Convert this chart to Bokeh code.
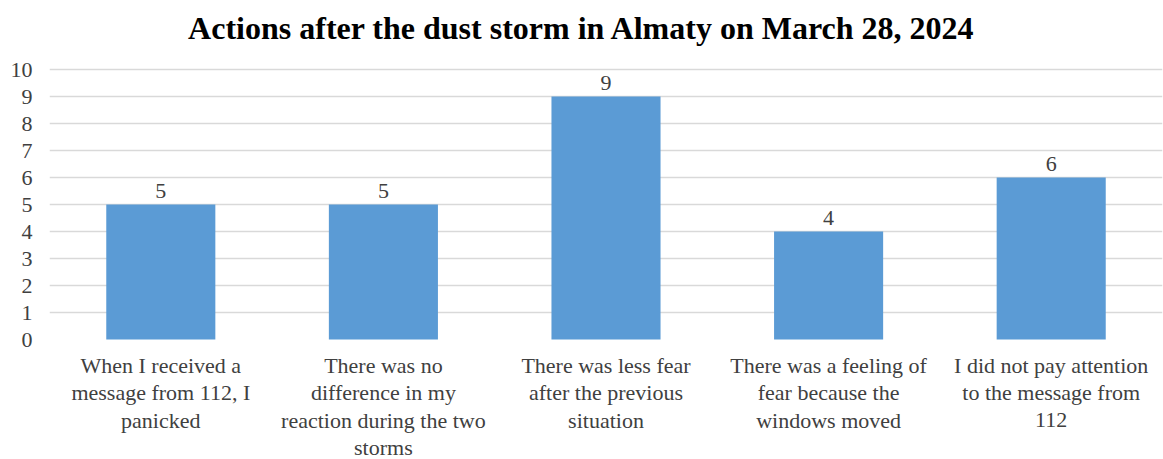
from bokeh.plotting import figure
from bokeh.models import FactorRange, FixedTicker, ColumnDataSource, Range1d
from bokeh.core.properties import value
from bokeh.embed import file_html
from bokeh.resources import INLINE

# Survey responses (category names wrapped onto several lines)
categories = [
    "When I received a\nmessage from 112, I\npanicked",
    "There was no\ndifference in my\nreaction during the two\nstorms",
    "There was less fear\nafter the previous\nsituation",
    "There was a feeling of\nfear because the\nwindows moved",
    "I did not pay attention\nto the message from\n112",
]
counts = [5, 5, 9, 4, 6]
y_ticks = list(range(0, 11))
title_text = "Actions after the dust storm in Almaty on March 28, 2024"

SERIF = "Liberation Serif"
TEXT_COLOR = "#404040"
LINE_STEP = 27.3

src = ColumnDataSource(dict(x=categories, top=counts,
                            lab=[str(c) for c in counts],
                            f=[SERIF] * len(counts)))

# The plot area spans the full height so that the title and the wrapped
# category names can be drawn as text glyphs above and below the bars.
p = figure(
    width=1163, height=459,
    x_range=FactorRange(factors=categories), y_range=Range1d(-4.444, 12.556),
    output_backend="svg", toolbar_location=None,
    min_border_left=49, min_border_right=1,
    min_border_top=0, min_border_bottom=0,
    background_fill_color="white", border_fill_color="white",
)
p.outline_line_color = None

p.vbar(x="x", top="top", width=0.49, source=src,
       fill_color="#5B9BD5", line_color=None)

# value labels above the bars
p.text(x="x", y="top", text="lab", text_font="f", source=src,
       text_font_size="22px", text_color=TEXT_COLOR, text_align="center",
       text_baseline="bottom", y_offset=-7)

# chart title, centred on the page
p.text(x=[2.5], y=[10], text=[title_text], x_offset=-24, y_offset=-42,
       text_font=value(SERIF), text_font_style="bold", text_font_size="32px",
       text_color="black", text_align="center", text_baseline="middle")

# category names, one text line at a time under each bar
lx, ltxt, loff, lf = [], [], [], []
for cat in categories:
    for i, line in enumerate(cat.split("\n")):
        lx.append(cat)
        ltxt.append(line)
        loff.append(26 + i * LINE_STEP)
        lf.append(SERIF)
p.text(x="x", y=0, y_offset="off", text="t", text_font="f",
       source=ColumnDataSource(dict(x=lx, t=ltxt, off=loff, f=lf)),
       text_font_size="22px", text_font_style="normal",
       text_color=TEXT_COLOR, text_align="center", text_baseline="middle")

# y axis
p.yaxis.ticker = FixedTicker(ticks=y_ticks)
p.yaxis.axis_line_color = None
p.yaxis.major_tick_line_color = None
p.yaxis.minor_tick_line_color = None
p.yaxis.major_label_text_font = SERIF
p.yaxis.major_label_text_font_size = "22px"
p.yaxis.major_label_text_color = TEXT_COLOR
p.yaxis.major_label_standoff = 11

p.xaxis.visible = False
p.xgrid.visible = False
p.ygrid.ticker = FixedTicker(ticks=y_ticks[1:])
p.ygrid.grid_line_color = "#D9D9D9"
p.ygrid.grid_line_width = 1.5

open("out.html", "w").write(file_html(p, INLINE))
